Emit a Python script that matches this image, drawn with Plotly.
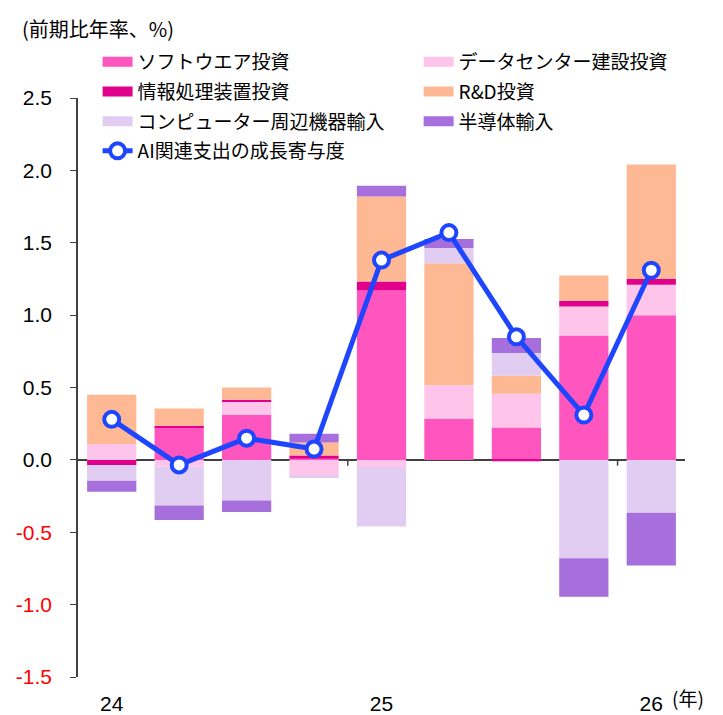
import plotly.graph_objects as go

# quarters 24Q1 .. 26Q1
quarters = ["24Q1", "24Q2", "24Q3", "24Q4", "25Q1", "25Q2", "25Q3", "25Q4", "26Q1"]
tick_pos = ["24Q1", "25Q1", "26Q1"]
tick_text = ["24", "25", "26"]

software = [0.00, 0.225, 0.31, 0.01, 1.17, 0.285, 0.223, 0.86, 1.00]
datacenter = [0.11, -0.045, 0.09, -0.105, -0.05, 0.23, 0.233, 0.20, 0.21]
it_equip = [-0.035, 0.01, 0.015, 0.02, 0.062, 0.0, -0.01, 0.04, 0.04]
rnd = [0.34, 0.12, 0.085, 0.09, 0.587, 0.843, 0.127, 0.173, 0.79]
computer = [-0.11, -0.27, -0.28, -0.02, -0.41, 0.106, 0.155, -0.68, -0.365]
semicon = [-0.075, -0.10, -0.08, 0.06, 0.075, 0.062, 0.104, -0.265, -0.365]
ai_total = [0.28, -0.035, 0.15, 0.075, 1.38, 1.57, 0.85, 0.31, 1.31]

y_ticks = [-1.5, -1.0, -0.5, 0.0, 0.5, 1.0, 1.5, 2.0, 2.5]

# name, values, colour, which legend column
series = [
    ("ソフトウエア投資", software, "#FF55BE", "legend"),
    ("データセンター建設投資", datacenter, "#FFC4EA", "legend2"),
    ("情報処理装置投資", it_equip, "#E0008C", "legend"),
    ("R&D投資", rnd, "#FFB894", "legend2"),
    ("コンピューター周辺機器輸入", computer, "#E1CDF2", "legend"),
    ("半導体輸入", semicon, "#A66FDB", "legend2"),
]

jp = "Noto Sans CJK JP"
num = "Arial, Liberation Sans"
blue = "#1E46FF"

fig = go.Figure()
for name, vals, col, lg in series:
    fig.add_trace(go.Bar(x=quarters, y=vals, name=name, marker_color=col,
                         marker_line_width=0, showlegend=False))
    # legend swatch drawn as a thick line
    fig.add_trace(go.Scatter(x=[None], y=[None], mode="lines", name=name,
                             legend=lg, legendgroup=name,
                             line=dict(color=col, width=14)))

fig.add_trace(go.Scatter(x=quarters, y=ai_total, name="AI関連支出の成長寄与度",
                         mode="lines+markers", legend="legend", legendgroup="ai",
                         line=dict(color=blue, width=5),
                         marker=dict(size=15, color="white",
                                     line=dict(color=blue, width=4))))

def lab(v):
    s = f"{v:.1f}"
    if v < 0:
        return f'<span style="color:red">{s}</span>'
    return s

# small boundary ticks on the zero line
for bx in [3.5, 7.5]:
    fig.add_shape(type="line", xref="x", yref="y", x0=bx, x1=bx, y0=0, y1=-0.04,
                  line=dict(color="#404040", width=1.5))

fig.add_annotation(text="(前期比年率、%)", xref="paper", yref="paper",
                   x=-0.095, y=1.12, xanchor="left", yanchor="middle",
                   showarrow=False, font=dict(family=jp, size=20, color="black"))
fig.add_annotation(text="(年)", xref="paper", yref="paper",
                   x=0.975, y=-0.063, xanchor="left", yanchor="bottom",
                   showarrow=False, font=dict(family=jp, size=19, color="black"))

leg_common = dict(xref="container", yref="container", xanchor="left",
                  yanchor="top", y=0.94, font=dict(family=jp, size=19),
                  bgcolor="rgba(0,0,0,0)", tracegroupgap=2, itemclick=False)

fig.update_layout(
    width=723, height=715,
    margin=dict(l=78, r=38, t=98, b=38, autoexpand=False),
    paper_bgcolor="white", plot_bgcolor="white",
    barmode="relative", bargap=0.27,
    font=dict(family=jp, size=19, color="black"),
    legend=dict(x=0.135, **leg_common),
    legend2=dict(x=0.579, **leg_common),
    xaxis=dict(type="category", range=[-0.5, 8.5], tickvals=tick_pos,
               ticktext=tick_text, ticks="outside", ticklen=8,
               tickcolor="rgba(0,0,0,0)", showline=False, showgrid=False,
               tickfont=dict(family=num, size=21)),
    yaxis=dict(range=[-1.5, 2.5], tickvals=y_ticks,
               ticktext=[lab(v) for v in y_ticks], ticks="outside", ticklen=6,
               tickcolor="#404040", showline=True, linecolor="#404040",
               linewidth=1.5, showgrid=False, zeroline=True,
               zerolinecolor="#404040", zerolinewidth=1.5,
               tickfont=dict(family=num, size=21), ticklabelstandoff=14),
)

fig.write_html("out.html", config={"displayModeBar": False},
               post_script="document.body.style.margin='0';")
